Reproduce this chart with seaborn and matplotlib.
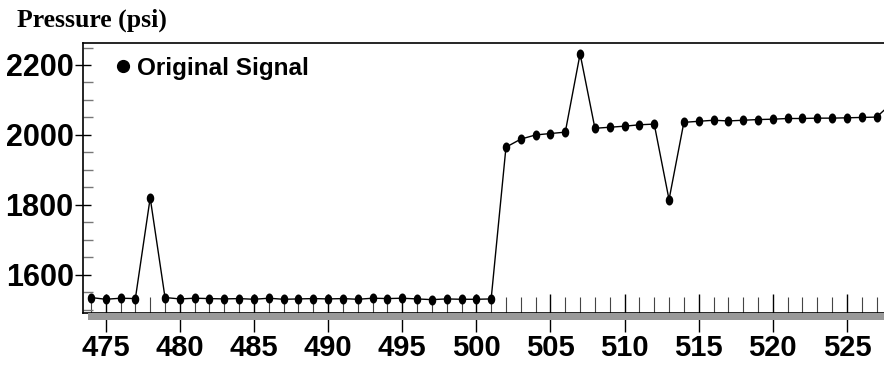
import numpy as np
import pandas as pd
import matplotlib
matplotlib.use("Agg")
import matplotlib.pyplot as plt
import seaborn as sns
from matplotlib.lines import Line2D
from matplotlib.patches import Rectangle
from matplotlib.path import Path
from matplotlib.ticker import MultipleLocator

sample = list(range(474, 529))
pressure = [1535, 1530, 1533, 1532, 1820, 1535, 1531, 1533, 1532, 1531,
            1532, 1530, 1533, 1530, 1531, 1532, 1531, 1532, 1530, 1533,
            1532, 1533, 1531, 1529, 1531, 1530, 1530, 1531, 1965, 1988,
            2000, 2004, 2008, 2232, 2019, 2022, 2025, 2029, 2031, 1815,
            2036, 2039, 2042, 2040, 2042, 2044, 2045, 2047, 2047, 2048,
            2048, 2049, 2050, 2051, 2090]
legend_label = "Original Signal"
y_title = "Pressure (psi)"

df = pd.DataFrame({"sample": sample, "pressure": pressure})

sns.set_style("ticks")
plt.rcParams["font.family"] = ["Liberation Sans", "DejaVu Sans"]
plt.rcParams["text.color"] = "black"

fig = plt.figure(figsize=(8.84, 3.66), dpi=100)
ax = fig.add_axes([0.0936, 0.146, 0.9064, 0.7366])

# vertically stretched dot, like the original markers
t = np.linspace(0, 2 * np.pi, 40)
ellipse = Path(np.column_stack([0.75 * np.cos(t), np.sin(t)]), closed=True)

sns.lineplot(data=df, x="sample", y="pressure", color="black", lw=1, ax=ax)
sns.scatterplot(data=df, x="sample", y="pressure", color="black", marker=ellipse,
                s=52, edgecolor="black", linewidth=0, ax=ax, zorder=3)

ax.set_xlim(473.45, 527.5)
ax.set_ylim(1492, 2263)
ax.set_xlabel("")
ax.set_ylabel("")

ax.xaxis.set_major_locator(MultipleLocator(5))
ax.xaxis.set_minor_locator(MultipleLocator(1))
ax.yaxis.set_major_locator(MultipleLocator(200))
ax.yaxis.set_minor_locator(MultipleLocator(50))

ax.tick_params(axis="x", which="major", direction="inout", length=27, width=1,
               color="black", labelcolor="black", pad=2, labelsize=21)
ax.tick_params(axis="x", which="minor", direction="in", length=11.5, width=0.8,
               color="#444444")
ax.tick_params(axis="y", which="major", direction="inout", length=11, width=1,
               color="black", labelcolor="black", pad=1, labelsize=22)
ax.tick_params(axis="y", which="minor", direction="in", length=7, width=1,
               color="#777777")
for lab in ax.get_xticklabels() + ax.get_yticklabels():
    lab.set_fontweight("bold")

ax.spines["right"].set_visible(False)
for s in ["left", "top", "bottom"]:
    ax.spines[s].set_linewidth(1.2)
    ax.spines[s].set_color("black")

# grey shadow band under the x axis
fig.patches.append(Rectangle((88 / 884, 46 / 366), 796 / 884, 7 / 366,
                             transform=fig.transFigure, facecolor="#999999",
                             edgecolor="none", zorder=0))

handle = Line2D([], [], marker="o", ls="", color="black", markersize=8.5)
ax.legend([handle], [legend_label], loc="center left", frameon=False,
          bbox_to_anchor=(0.0406, 0.907), handlelength=0.6, handletextpad=0.3,
          borderpad=0, borderaxespad=0, labelcolor="black",
          prop={"weight": "bold", "size": 17.5})

fig.text(17 / 884, 1 - 9 / 366, y_title, ha="left", va="top", color="black",
         fontsize=18.5, fontweight="bold", family="Liberation Serif")

fig.savefig("out.png", dpi=100)
